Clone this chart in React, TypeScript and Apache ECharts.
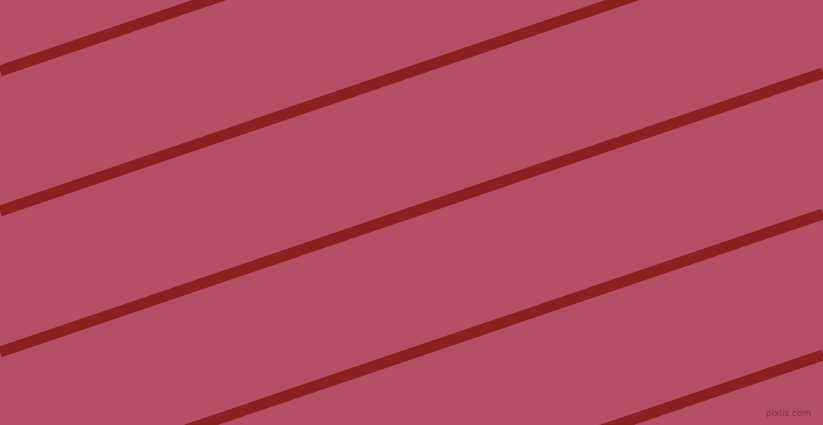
import React, { useEffect, useRef } from 'react';
import * as echarts from 'echarts';

// stripe centre lines: y at the left edge (x=0) and at the right edge (x=823)
const stripeLeftY  = [71, 211, 352, 493, 634];
const stripeRightY = [-208, -68, 73, 214, 355];
const stripeXs     = [0, 823];

const BG     = '#B44F66';
const STRIPE = '#8C1F20';

export default function App() {
  const ref = useRef<HTMLDivElement>(null);

  useEffect(() => {
    document.body.style.margin = '0';
    if (!ref.current) return;
    const chart = echarts.init(ref.current, null, { renderer: 'svg' });

    const series = stripeLeftY.map((y0, i) => ({
      type: 'line' as const,
      data: [[stripeXs[0], y0], [stripeXs[1], stripeRightY[i]]],
      symbol: 'none',
      lineStyle: { color: STRIPE, width: 11, cap: 'butt' as const },
      emphasis: { disabled: true },
      clip: true,
      silent: true,
    }));

    chart.setOption({
      animation: false,
      backgroundColor: BG,
      grid: { left: 0, right: 0, top: 0, bottom: 0 },
      xAxis: { type: 'value', min: 0, max: 823, show: false },
      yAxis: { type: 'value', min: 0, max: 425, inverse: true, show: false },
      series,
      graphic: [{
        type: 'text',
        right: 12,
        bottom: 8,
        style: {
          text: 'pixlis.com',
          fontSize: 9,
          fontFamily: 'DejaVu Sans',
          fill: '#86304A',
        },
      }],
    });

    return () => chart.dispose();
  }, []);

  return <div ref={ref} style={{ width: 823, height: 425, background: BG }} />;
}
